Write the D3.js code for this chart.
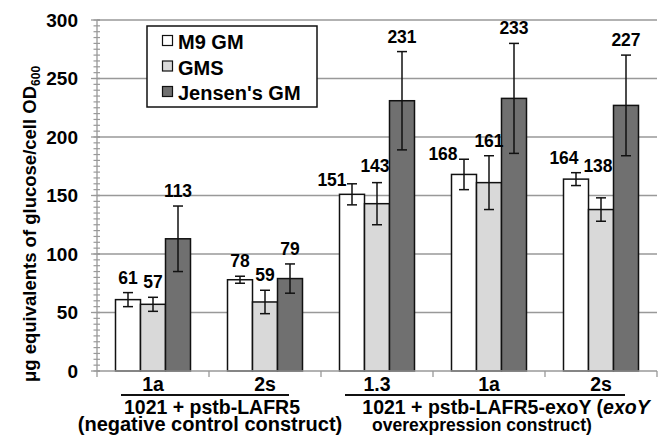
<!DOCTYPE html>
<html>
<head>
<meta charset="utf-8">
<script src="https://cdn.jsdelivr.net/npm/d3@7"></script>
<style>
  body { margin: 0; background: #fff; }
  svg { display: block; font-family: "Liberation Sans", Arial, sans-serif; font-weight: bold; }
</style>
</head>
<body>
<div id="chart" style="width:661px;height:436px"></div>
<script>
// data
var categories = ["1a", "2s", "1.3", "1a", "2s"];
var series = ["M9 GM", "GMS", "Jensen's GM"];
var m9 = [61, 78, 151, 168, 164];
var gms = [57, 59, 143, 161, 138];
var jensen = [113, 79, 231, 233, 227];
var m9Err = [6, 3, 9, 13, 5.5];
var gmsErr = [6, 10, 18, 23, 10];
var jensenErr = [28, 12.5, 42, 47, 43];
var yTicks = [0, 50, 100, 150, 200, 250, 300];

var values = [m9, gms, jensen];
var errors = [m9Err, gmsErr, jensenErr];
var colors = ["#ffffff", "#d9d9d9", "#707070"];

// construct groups (which categories they span)
var groups = [
    {first: 0, last: 1, lines: [["1021 + pstb-LAFR5"], ["(negative control construct)"]], dx: [3, 1], size: [19.5, 20]},
    {first: 2, last: 4, lines: [["1021 + pstb-LAFR5-exoY (", "exoY"], ["overexpression construct)"]], dx: [17, -7], size: [19.5, 17.5]}
];

// hand nudges for a few data labels that sit beside their error bars ("group-series": [dx, dy])
var labelNudge = {"2-0": [-20, 11], "3-0": [-21, 10], "4-0": [-12, 0], "4-1": [-3, -17], "2-1": [-2, -2]};

var width = 661, height = 436;
var margin = {top: 20, right: 4, bottom: 65, left: 97};

var svg = d3.select("#chart")
    .append("svg")
        .attr("width", width)
        .attr("height", height);

var x0 = d3.scaleBand()
    .domain(d3.range(categories.length))
    .range([margin.left, width - margin.right]);

var x1 = d3.scaleBand()
    .domain(d3.range(series.length))
    .range([0, x0.bandwidth()])
    .paddingInner(0)
    .paddingOuter(0.74);

var y = d3.scaleLinear()
    .domain([0, 300])
    .range([height - margin.bottom, margin.top]);

var grey = "#999";

// gridlines
svg.append("g")
    .selectAll("line")
    .data(yTicks.slice(1))
    .join("line")
        .attr("x1", margin.left)
        .attr("x2", width - margin.right)
        .attr("y1", d => y(d))
        .attr("y2", d => y(d))
        .attr("stroke", grey)
        .attr("stroke-width", 1.3);

// y axis: minor and major ticks
var yAxis = svg.append("g");
yAxis.selectAll("line.minor")
    .data(d3.range(0, 301, 5))
    .join("line")
        .attr("class", "minor")
        .attr("x1", margin.left - 3.5)
        .attr("x2", margin.left + 3)
        .attr("y1", d => y(d))
        .attr("y2", d => y(d))
        .attr("stroke", grey)
        .attr("stroke-width", 1.2);
yAxis.selectAll("line.major")
    .data(yTicks)
    .join("line")
        .attr("class", "major")
        .attr("x1", margin.left - 6)
        .attr("x2", margin.left + 3)
        .attr("y1", d => y(d))
        .attr("y2", d => y(d))
        .attr("stroke", grey)
        .attr("stroke-width", 1.3);
yAxis.append("line")
    .attr("x1", margin.left).attr("x2", margin.left)
    .attr("y1", y(0)).attr("y2", y(300))
    .attr("stroke", grey)
    .attr("stroke-width", 1.3);
yAxis.selectAll("text")
    .data(yTicks)
    .join("text")
        .attr("x", margin.left - 19)
        .attr("y", d => y(d))
        .attr("dy", "0.36em")
        .attr("text-anchor", "end")
        .attr("font-size", 19)
        .text(d => d);

// y axis title
var yTitle = svg.append("text")
    .attr("transform", "translate(36," + 224 + ") rotate(-90)")
    .attr("text-anchor", "middle")
    .attr("font-size", 18.5);
yTitle.append("tspan").text("\u03bcg equivalents of glucose/cell OD");
yTitle.append("tspan").attr("font-size", 12).attr("dy", 4).text("600");

// bars
var bars = svg.append("g");
series.forEach(function(s, si) {
    bars.selectAll("rect.s" + si)
        .data(values[si])
        .join("rect")
            .attr("x", (d, i) => x0(i) + x1(si))
            .attr("y", d => y(d))
            .attr("width", x1.bandwidth())
            .attr("height", d => y(0) - y(d))
            .attr("fill", colors[si])
            .attr("stroke", "#111")
            .attr("stroke-width", 1.5);
});

// error bars
var cap = 5;
series.forEach(function(s, si) {
    var g = svg.append("g").attr("stroke", "#111").attr("stroke-width", 1.5);
    values[si].forEach(function(v, i) {
        var cx = x0(i) + x1(si) + x1.bandwidth() / 2;
        var e = errors[si][i];
        g.append("line").attr("x1", cx).attr("x2", cx).attr("y1", y(v + e)).attr("y2", y(v - e));
        g.append("line").attr("x1", cx - cap).attr("x2", cx + cap).attr("y1", y(v + e)).attr("y2", y(v + e));
        g.append("line").attr("x1", cx - cap).attr("x2", cx + cap).attr("y1", y(v - e)).attr("y2", y(v - e));
    });
});

// data labels
series.forEach(function(s, si) {
    svg.append("g")
        .selectAll("text")
        .data(values[si])
        .join("text")
            .attr("x", (d, i) => x0(i) + x1(si) + x1.bandwidth() / 2 + (labelNudge[i + "-" + si] || [0, 0])[0])
            .attr("y", (d, i) => y(d + errors[si][i]) - 9 + (labelNudge[i + "-" + si] || [0, 0])[1])
            .attr("text-anchor", "middle")
            .attr("font-size", 17.5)
            .text(d => d);
});

// x axis line and category ticks
svg.append("line")
    .attr("x1", margin.left).attr("x2", width - margin.right)
    .attr("y1", y(0)).attr("y2", y(0))
    .attr("stroke", grey).attr("stroke-width", 1.3);
svg.append("g")
    .selectAll("line")
    .data(d3.range(categories.length + 1))
    .join("line")
        .attr("x1", i => margin.left + i * x0.step())
        .attr("x2", i => margin.left + i * x0.step())
        .attr("y1", y(0))
        .attr("y2", y(0) + 6)
        .attr("stroke", grey)
        .attr("stroke-width", 1.3);

svg.append("g")
    .selectAll("text")
    .data(categories)
    .join("text")
        .attr("x", (d, i) => x0(i) + x0.bandwidth() / 2)
        .attr("y", 391)
        .attr("text-anchor", "middle")
        .attr("font-size", 19.5)
        .text(d => d);

// construct group brackets and labels
groups.forEach(function(g) {
    var left = x0(g.first), right = x0(g.last) + x0.bandwidth();
    var mid = (left + right) / 2;
    svg.append("line")
        .attr("x1", left + 24).attr("x2", right - 32)
        .attr("y1", 395).attr("y2", 395)
        .attr("stroke", "#111").attr("stroke-width", 2);
    g.lines.forEach(function(parts, li) {
        var t = svg.append("text")
            .attr("x", mid + g.dx[li])
            .attr("y", 414 + li * 17)
            .attr("text-anchor", "middle")
            .attr("font-size", g.size[li]);
        parts.forEach(function(p, pi) {
            t.append("tspan").attr("font-style", pi === 1 ? "italic" : null).text(p);
        });
    });
});

// legend
var legend = svg.append("g");
legend.append("rect")
    .attr("x", 147).attr("y", 26)
    .attr("width", 170).attr("height", 81)
    .attr("fill", "#fff")
    .attr("stroke", "#111")
    .attr("stroke-width", 1.5);
series.forEach(function(s, si) {
    var yy = 49 + si * 25.5;
    legend.append("rect")
        .attr("x", 162.5).attr("y", yy - 13.5)
        .attr("width", 10).attr("height", 10)
        .attr("fill", colors[si])
        .attr("stroke", "#111")
        .attr("stroke-width", 1.2);
    legend.append("text")
        .attr("x", 178).attr("y", yy)
        .attr("font-size", 20)
        .text(s);
});
</script>
</body>
</html>
